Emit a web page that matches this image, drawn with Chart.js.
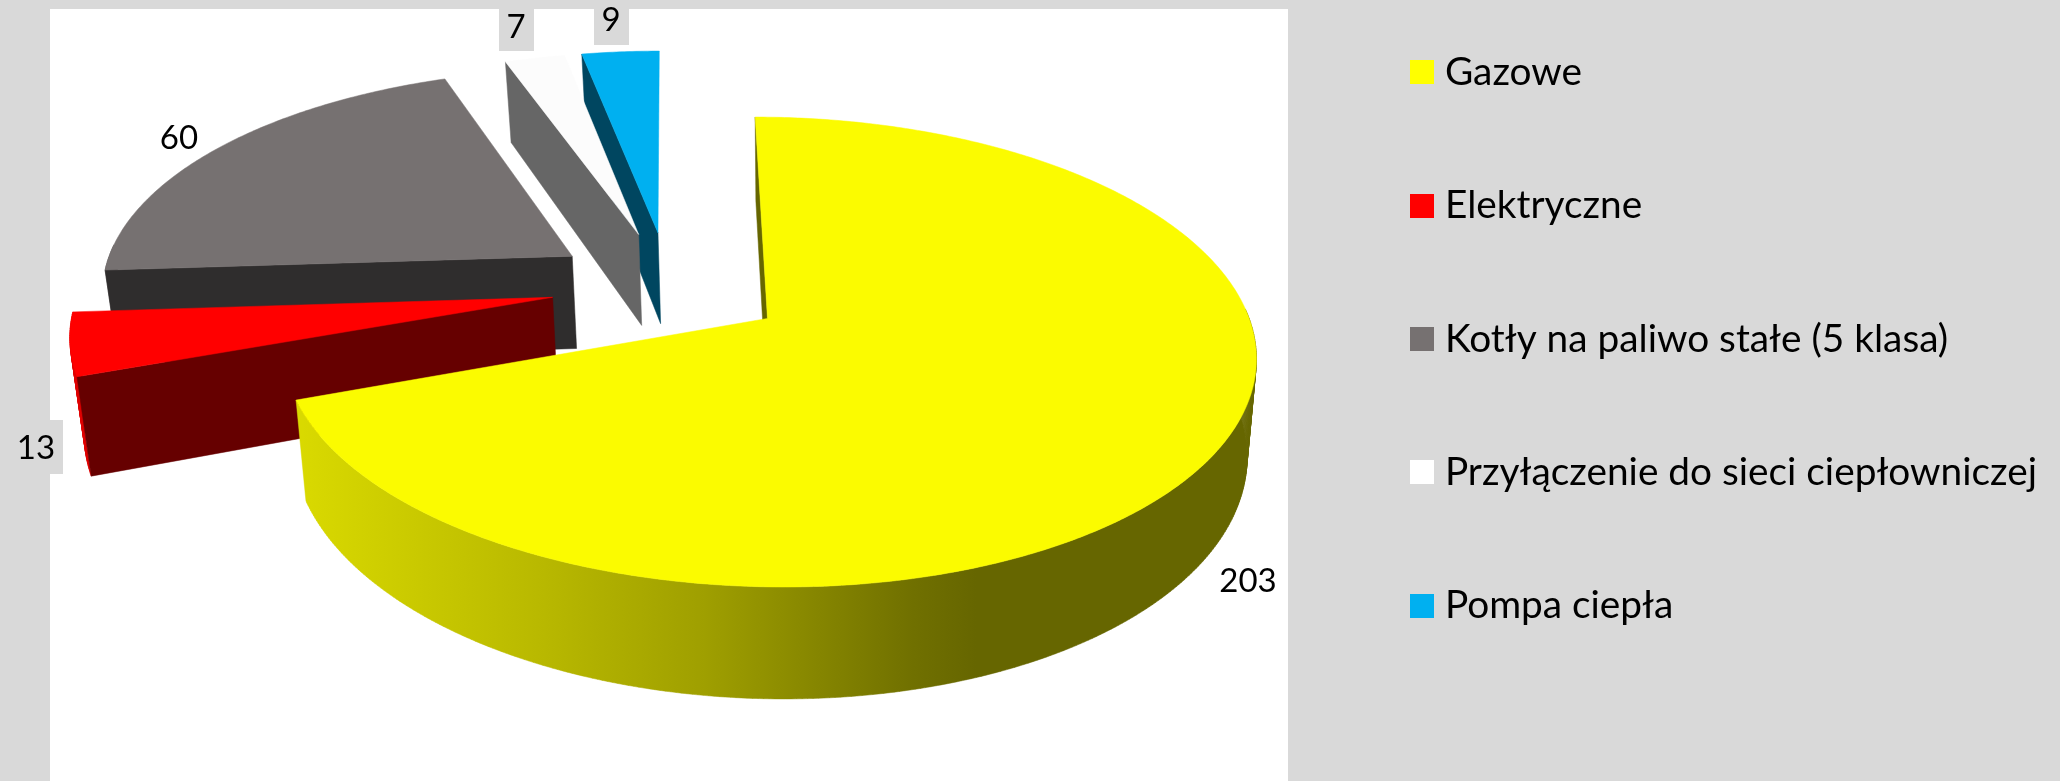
<!DOCTYPE html>
<html>
<head>
<meta charset="utf-8">
<style>
    html, body { margin: 0; padding: 0; background: #d9d9d9; }
    canvas { display: block; }
</style>
<script src="https://cdn.jsdelivr.net/npm/chart.js@4"></script>
</head>
<body>
<canvas id="chart" width="2060" height="781"></canvas>
<script>
const categories = ['Gazowe', 'Elektryczne', 'Kotły na paliwo stałe (5 klasa)', 'Przyłączenie do sieci ciepłowniczej', 'Pompa ciepła'];
const values = [203, 13, 60, 7, 9];
const topColors = ['#fbfb00', '#ff0000', '#767171', '#fcfcfc', '#00b0f0'];
const sideColors = ['#666600', '#660000', '#2f2d2d', '#666666', '#004660'];
const legendColors = ['#ffff00', '#ff0000', '#767171', '#ffffff', '#00b0f0'];

// 3D look: arc angles come from the chart, this only projects them
const disk = { cx: 669, cy: 286, rx: 472, ry: 221, depth: 94, persp: 0.14, explode: 0.25, vanishX: 790, shrink: 0.02 };
const labelSpots = [[1248, 581], [36, 448], [179, 138], [516, 27], [611, 20]];
const labelBoxes = [null, [0, 420, 63, 54], null, [499, 9, 35, 42], [594, 9, 35, 36]];
// rim shading, [position along the rim gradient, amount of side colour]
const rimStops = [[0, 0.21], [0.38, 0.45], [0.61, 0.62], [0.91, 0.93], [1, 1]];

function project(x, y, h) {
    const s = 1 / (1 - y * disk.persp);
    const px = disk.cx + x * disk.rx * s;
    return [disk.vanishX + (px - disk.vanishX) * (1 - disk.shrink * h), disk.cy + (y * disk.ry + h * disk.depth) * s];
}

function mixColor(a, b, t) {
    const rgb = [1, 3, 5].map(k => {
        const ca = parseInt(a.substr(k, 2), 16);
        const cb = parseInt(b.substr(k, 2), 16);
        return Math.round(ca + (cb - ca) * t);
    });
    return `rgb(${rgb.join(',')})`;
}

function tracePoly(ctx, pts) {
    pts.forEach((p, i) => i ? ctx.lineTo(p[0], p[1]) : ctx.moveTo(p[0], p[1]));
    ctx.closePath();
}

function paint(ctx, fill) {
    ctx.fillStyle = fill;
    ctx.fill();
    ctx.strokeStyle = fill;
    ctx.lineWidth = 0.5;
    ctx.stroke();
}

function fillPoly(ctx, pts, fill) {
    ctx.beginPath();
    tracePoly(ctx, pts);
    paint(ctx, fill);
}

function drawSlice(ctx, arc, i) {
    const a0 = arc.startAngle;
    const a1 = arc.endAngle;
    const mid = (a0 + a1) / 2;
    const ox = disk.explode * Math.cos(mid);
    const oy = disk.explode * Math.sin(mid);

    const edge = [];
    const steps = Math.max(2, Math.ceil((a1 - a0) / 0.01));
    for (let k = 0; k <= steps; k++) {
        const a = a0 + (a1 - a0) * k / steps;
        edge.push({ x: ox + Math.cos(a), y: oy + Math.sin(a), a: a });
    }
    const first = edge[0];
    const last = edge[edge.length - 1];
    const cutFace = (p) => [project(ox, oy, 0), project(p.x, p.y, 0), project(p.x, p.y, 1), project(ox, oy, 1)];

    // rim, one thin quad per step, only the part that faces the viewer
    const grad = ctx.createLinearGradient(280, 0, 976, 0);
    rimStops.forEach(s => grad.addColorStop(s[0], mixColor(topColors[i], sideColors[i], s[1])));
    ctx.beginPath();
    for (let k = 0; k < steps; k++) {
        const p = edge[k];
        const q = edge[k + 1];
        if (Math.sin(p.a) < -0.05) continue;
        tracePoly(ctx, [project(p.x, p.y, 0), project(q.x, q.y, 0), project(q.x, q.y, 1), project(p.x, p.y, 1)]);
    }
    paint(ctx, grad);

    // cut faces turned away from the viewer stay hidden under the top
    if (Math.cos(a0) < 0.05) fillPoly(ctx, cutFace(first), sideColors[i]);
    if (Math.cos(a1) > 0.05) fillPoly(ctx, cutFace(last), sideColors[i]);

    const top = [project(ox, oy, 0)].concat(edge.map(p => project(p.x, p.y, 0)));
    fillPoly(ctx, top, topColors[i]);
}

const pie3d = {
    id: 'pie3d',
    beforeDraw(chart) {
        const ctx = chart.ctx;
        ctx.fillStyle = '#ffffff';
        ctx.fillRect(50, 9, 1238, 772);
    },
    afterLayout(chart) {
        // put the legend where the original has it
        const legend = chart.legend;
        const pad = legend.options.labels.padding;
        legend.left = 1418 - pad;
        legend.top = 53 - pad;
        legend.bottom = 1000;
    },
    beforeDatasetDraw(chart, args) {
        const arcs = args.meta.data;
        // back to front
        [4, 3, 2, 1, 0].forEach(i => drawSlice(chart.ctx, arcs[i], i));
        return false;
    },
    afterDatasetsDraw(chart) {
        const ctx = chart.ctx;
        ctx.font = '33px Lato';
        ctx.textAlign = 'center';
        ctx.textBaseline = 'middle';
        values.forEach((v, i) => {
            if (labelBoxes[i]) {
                ctx.fillStyle = '#d9d9d9';
                ctx.fillRect(...labelBoxes[i]);
            }
            ctx.fillStyle = '#000000';
            ctx.fillText(String(v), labelSpots[i][0], labelSpots[i][1]);
        });
    }
};

function legendSwatch(color) {
    const c = document.createElement('canvas');
    c.width = 24;
    c.height = 24;
    const g = c.getContext('2d');
    g.fillStyle = color;
    g.fillRect(0, 0, 24, 24);
    return c;
}

new Chart(document.getElementById('chart').getContext('2d'), {
    type: 'pie',
    data: {
        labels: categories,
        datasets: [{
            data: values,
            backgroundColor: legendColors,
            borderWidth: 0
        }]
    },
    options: {
        responsive: false,
        animation: false,
        rotation: 0,
        plugins: {
            tooltip: { enabled: false },
            legend: {
                position: 'right',
                align: 'start',
                labels: {
                    color: '#000000',
                    font: { family: 'Lato', size: 38.8 },
                    padding: 94.5,
                    usePointStyle: true,
                    pointStyleWidth: 7.5,
                    generateLabels(chart) {
                        const base = Chart.overrides.pie.plugins.legend.labels.generateLabels(chart);
                        return base.map((item, i) => Object.assign(item, { pointStyle: legendSwatch(legendColors[i]) }));
                    }
                }
            }
        }
    },
    plugins: [pie3d]
});
</script>
</body>
</html>
